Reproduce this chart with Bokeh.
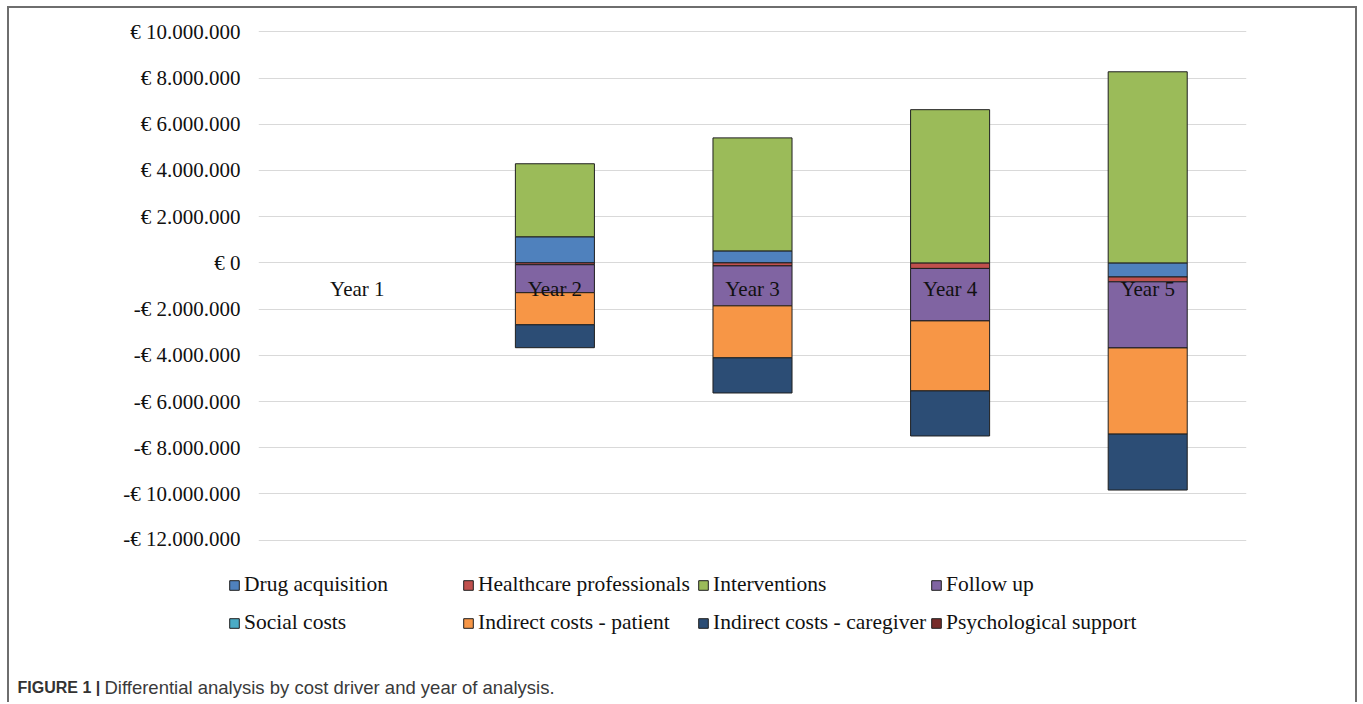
from bokeh.plotting import figure
from bokeh.layouts import column
from bokeh.models import ColumnDataSource, FactorRange, Range1d, FixedTicker, Legend, LegendItem, Label
from bokeh.embed import file_html
from bokeh.resources import INLINE
from bokeh.core.properties import value

# ---------------- data ----------------
years = ["Year 1", "Year 2", "Year 3", "Year 4", "Year 5"]

drug_acquisition = [0, 1130000, 520000, 0, -610000]
healthcare_professionals = [0, -80000, -130000, -240000, -210000]
interventions = [0, 3160000, 4890000, 6630000, 8270000]
follow_up = [0, -1210000, -1730000, -2270000, -2860000]
social_costs = [0, 0, 0, 0, 0]
indirect_costs_patient = [0, -1390000, -2250000, -3030000, -3730000]
indirect_costs_caregiver = [0, -990000, -1520000, -1950000, -2420000]
psychological_support = [0, 0, 0, 0, 0]

series_names = ["Drug acquisition", "Healthcare professionals", "Interventions", "Follow up",
                "Social costs", "Indirect costs - patient", "Indirect costs - caregiver",
                "Psychological support"]
series_values = [drug_acquisition, healthcare_professionals, interventions, follow_up,
                 social_costs, indirect_costs_patient, indirect_costs_caregiver,
                 psychological_support]
series_colors = ["#4F81BD", "#C0504D", "#9BBB59", "#8064A2",
                 "#4BACC6", "#F79646", "#2C4D75", "#772C2A"]

tick_values = [10000000, 8000000, 6000000, 4000000, 2000000, 0, -2000000,
               -4000000, -6000000, -8000000, -10000000, -12000000]
tick_labels = ["€ 10.000.000", "€ 8.000.000", "€ 6.000.000", "€ 4.000.000", "€ 2.000.000",
               "€ 0", "-€ 2.000.000", "-€ 4.000.000", "-€ 6.000.000", "-€ 8.000.000",
               "-€ 10.000.000", "-€ 12.000.000"]

caption_bold = "FIGURE 1 |"
caption_text = "Differential analysis by cost driver and year of analysis."

SERIF = "Liberation Serif"
SANS = "Liberation Sans"
FS = "21px"
FS_LEG = "21.5px"
TXT = "#111111"

W = 1346
ypad = 100000

p = figure(width=W, height=542, output_backend="svg", toolbar_location=None,
           x_range=FactorRange(*years, range_padding=0),
           y_range=Range1d(min(tick_values) - ypad, max(tick_values) + ypad),
           title=None, min_border_left=249, min_border_right=109,
           min_border_top=21, min_border_bottom=8)
p.frame_align = False
p.outline_line_color = None
p.background_fill_color = "white"
p.border_fill_color = "white"

# stacked bars (positives above zero, negatives below, in series order)
pos_base = [0.0] * len(years)
neg_base = [0.0] * len(years)
for name, vals, col in zip(series_names, series_values, series_colors):
    xs, tops, bottoms = [], [], []
    for i, v in enumerate(vals):
        if v > 0:
            xs.append(years[i]); bottoms.append(pos_base[i]); tops.append(pos_base[i] + v)
            pos_base[i] += v
        elif v < 0:
            xs.append(years[i]); tops.append(neg_base[i]); bottoms.append(neg_base[i] + v)
            neg_base[i] += v
    src = ColumnDataSource(dict(x=xs, top=tops, bottom=bottoms))
    p.vbar(x="x", top="top", bottom="bottom", width=0.4, source=src,
           fill_color=col, line_color="#1f1f1f", line_width=1)

# category labels at the zero line
p.text(x=years, y=[0] * len(years), text=years, y_offset=26,
       text_align="center", text_baseline="middle",
       text_font=value(SERIF), text_font_size=FS, text_color=TXT)

# axes
p.xaxis.visible = False
p.xgrid.grid_line_color = None
ticker = FixedTicker(ticks=tick_values)
p.yaxis.ticker = ticker
p.ygrid.ticker = ticker
p.ygrid.grid_line_color = "#d9d9d9"
p.ygrid.grid_line_width = 1
p.yaxis.major_label_overrides = {v: l for v, l in zip(tick_values, tick_labels)}
p.yaxis.axis_line_color = None
p.yaxis.major_tick_line_color = None
p.yaxis.minor_tick_line_color = None
p.yaxis.major_tick_out = 0
p.yaxis.major_label_standoff = 18
p.yaxis.major_label_text_font = SERIF
p.yaxis.major_label_text_font_size = FS
p.yaxis.major_label_text_color = TXT

# ---------------- legend + caption strip ----------------
H2 = 152
p2 = figure(width=W, height=H2, output_backend="svg", toolbar_location=None,
            x_range=Range1d(0, W), y_range=Range1d(0, H2), title=None,
            min_border=0, min_border_left=0, min_border_right=0,
            min_border_top=0, min_border_bottom=0)
p2.frame_align = False
p2.axis.visible = False
p2.grid.grid_line_color = None
p2.outline_line_color = None
p2.background_fill_color = "white"
p2.border_fill_color = "white"

# legend proxies: one swatch renderer per series, kept off-canvas
col_x = [219, 453, 688, 921]
row_y = [105, 67]
for k, (name, col) in enumerate(zip(series_names, series_colors)):
    r = p2.vbar(x=[-1000], top=[-1000], bottom=[-1001], width=1, fill_color=col,
                line_color="#1f1f1f", line_width=1)
    lg = Legend(items=[LegendItem(label=name, renderers=[r])],
                location=(col_x[k % 4], row_y[k // 4]),
                glyph_width=12, glyph_height=12, label_standoff=4,
                padding=0, margin=0, spacing=0,
                label_text_font=SERIF, label_text_font_size=FS_LEG,
                label_text_color=TXT,
                border_line_color=None, background_fill_alpha=0)
    p2.add_layout(lg)

p2.add_layout(Label(x=8, y=15, x_units="screen", y_units="screen", text=caption_bold,
                    text_font=SANS, text_font_style="bold", text_font_size="16px",
                    text_color="#333333", text_baseline="middle"))
p2.add_layout(Label(x=95, y=15, x_units="screen", y_units="screen", text=caption_text,
                    text_font=SANS, text_font_size="18.5px",
                    text_color="#3a3a3a", text_baseline="middle"))

layout = column(p, p2, spacing=0,
                styles={"margin-left": "7px", "margin-top": "6px",
                        "border-top": "2px solid #6e6e6e",
                        "border-left": "2px solid #6e6e6e",
                        "border-right": "2px solid #6e6e6e"})

open("out.html", "w").write(file_html(layout, INLINE))
